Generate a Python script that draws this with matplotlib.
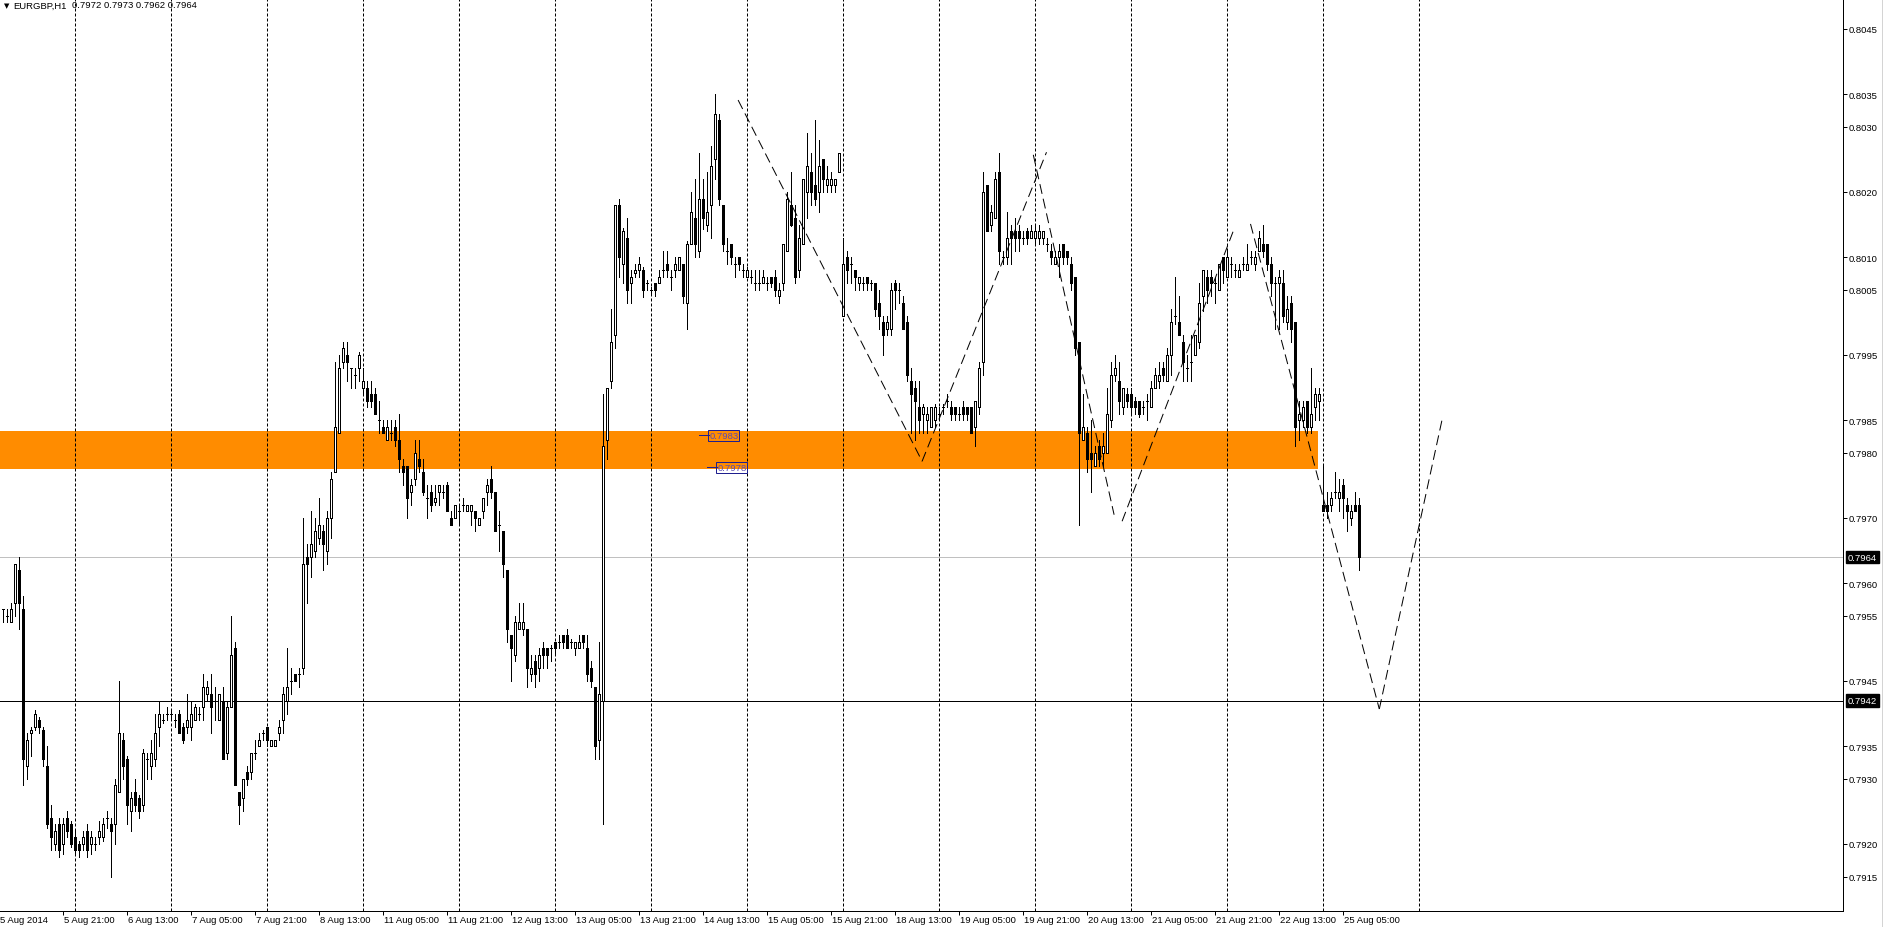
import numpy as np
import matplotlib.pyplot as plt
from matplotlib.patches import Rectangle
from matplotlib.lines import Line2D
from matplotlib.transforms import ScaledTranslation, blended_transform_factory

plt.rcParams['font.family'] = ['Liberation Sans', 'DejaVu Sans']

symbol = 'EURGBP,H1'
last_ohlc = '0.7972 0.7973 0.7962 0.7964'

# hourly bars, prices in pips (x 0.0001); bar 1 = 5 Aug 2014 06:00
opens = [
    7956, 7955, 7954, 7957, 7962, 7956, 7932, 7937, 7938, 7939,
    7937.5, 7932, 7924, 7920, 7923, 7920, 7924, 7923, 7921, 7920,
    7920, 7922, 7920, 7920, 7921, 7921, 7924, 7923, 7923, 7928,
    7936, 7933, 7925, 7928, 7927, 7926, 7933, 7932, 7933, 7938,
    7939, 7940, 7940, 7939, 7940, 7938, 7938, 7938, 7939, 7940,
    7941, 7943, 7943, 7942, 7939, 7942, 7934, 7941, 7950, 7928,
    7927, 7931, 7931, 7934, 7935, 7937, 7938, 7935, 7935, 7937,
    7939, 7942, 7945, 7946, 7946, 7947, 7964, 7964, 7965, 7967,
    7968, 7965, 7970, 7977, 7983, 7994, 7995, 7993, 7992, 7993,
    7990, 7990, 7989, 7989, 7985, 7984, 7982, 7983, 7984, 7982,
    7978, 7978, 7974, 7976, 7979, 7977, 7973, 7974, 7972.5, 7974,
    7974, 7975, 7970, 7970, 7971, 7972, 7971, 7971, 7971, 7969,
    7971, 7974, 7976, 7974, 7969, 7968, 7962, 7952, 7949, 7953,
    7953, 7953, 7946, 7948, 7947, 7950, 7950, 7950, 7951, 7951,
    7952, 7952, 7951, 7950, 7950, 7952, 7950, 7947, 7944, 7936,
    7942, 7982, 7991, 7998, 8018, 8009, 8013, 8006, 8007.5, 8008,
    8008, 8006, 8005, 8006, 8006, 8008, 8009, 8007, 8008, 8008,
    8009, 8003, 8012, 8016, 8011, 8019, 8015, 8018, 8025, 8031,
    8018, 8011, 8012, 8009, 8010, 8008, 8007, 8007, 8006, 8006,
    8006, 8006, 8007, 8007, 8004, 8006, 8011, 8018, 8016, 8008,
    8012, 8020, 8023, 8021, 8020, 8025, 8021, 8021, 8021, 8023,
    8001, 8010, 8009, 8008, 8006, 8006, 8007, 8006, 8006, 8003,
    8000, 7999, 7999, 8006, 8005, 8003, 8000, 7991, 7990, 7987,
    7986, 7985, 7984, 7985, 7986, 7987, 7988, 7987, 7987, 7986,
    7987, 7987, 7987, 7984, 7987, 7994, 8021, 8015, 8016, 8023,
    8010, 8010, 8014, 8014, 8014, 8013, 8014, 8013, 8013, 8013,
    8013, 8012, 8011, 8009, 8010, 8012, 8011, 8009, 8007, 7997,
    7982, 7983, 7980, 7978, 7981, 7980, 7980, 7985, 7992, 7991,
    7987, 7989, 7989, 7988, 7988, 7987, 7988, 7987, 7990, 7991,
    7993, 7991, 7995, 8001, 8000, 7997, 7993, 7994, 7995, 7997,
    8004, 8007, 8007, 8006, 8005, 8010, 8007, 8009, 8008, 8007,
    8009, 8008, 8010, 8009, 8011, 8012, 8012, 8009, 8006, 8006,
    8006, 8000, 8003, 8000, 7985, 7985, 7988, 7984, 7987, 7988,
    7972, 7972, 7972, 7974, 7973, 7975, 7972, 7970, 7972, 7972,
]
highs = [
    7956, 7956, 7957, 7963, 7964, 7958, 7937, 7938, 7940.5, 7939.5,
    7938, 7935, 7926, 7923, 7924, 7924, 7925, 7923.5, 7922, 7920.5,
    7922, 7923, 7922, 7921, 7923.5, 7924, 7925, 7924, 7930, 7945,
    7937, 7933.5, 7928, 7930, 7927.5, 7934.5, 7934, 7936, 7940, 7942,
    7940, 7941, 7940.5, 7940, 7940.5, 7938.5, 7943, 7942, 7941.5, 7941,
    7946, 7945, 7946, 7944, 7943, 7944, 7942, 7955, 7951, 7928,
    7930, 7932, 7934, 7936, 7937, 7937.5, 7938, 7936, 7936, 7939,
    7944, 7950, 7947, 7946, 7947, 7970, 7966, 7971, 7970, 7973,
    7969, 7971, 7977, 7994, 7995, 7997, 7997, 7993, 7993, 7995.5,
    7993, 7991, 7991, 7990, 7988, 7985, 7985, 7985, 7985, 7986,
    7979, 7978, 7976, 7982, 7982, 7979, 7975, 7975, 7975, 7975,
    7975, 7975.5, 7971, 7972, 7972, 7973, 7972, 7972, 7971, 7970,
    7973, 7976, 7978, 7974, 7971, 7968, 7962, 7952, 7955, 7957,
    7957, 7953, 7949, 7949, 7950, 7951, 7950, 7950.5, 7951, 7952,
    7952, 7953, 7951.5, 7951, 7952, 7952, 7952, 7948, 7944, 7951,
    7989, 7990, 8002, 8018, 8019, 8014.5, 8016, 8008, 8009, 8010,
    8008.5, 8006.5, 8005.5, 8006, 8008, 8011, 8011, 8008, 8010, 8010,
    8009, 8012.5, 8020, 8022, 8026, 8022, 8023, 8027, 8035, 8032,
    8018, 8013, 8012, 8010, 8010, 8009, 8008.5, 8008, 8008, 8008,
    8008, 8007, 8007, 8008, 8006, 8012, 8020, 8023, 8018, 8015,
    8022, 8029, 8026, 8031, 8028, 8025, 8024, 8023, 8022, 8026,
    8013, 8011, 8010, 8008, 8007, 8007, 8007, 8006.5, 8006, 8005,
    8001, 8001, 8006, 8006.5, 8006, 8004, 8001, 7993, 7991, 7991,
    7987.5, 7987, 7987, 7987.5, 7987, 7987.5, 7989, 7988, 7987, 7987,
    7988, 7987, 7987, 7988, 7994, 8023, 8021, 8018, 8023, 8026,
    8011, 8017, 8015, 8016, 8015, 8014, 8014.5, 8015, 8015, 8015,
    8014, 8013, 8012, 8011, 8012, 8012, 8011, 8010, 8007, 7997,
    7989, 7984, 7985, 7981, 7982, 7983, 7990, 7994, 7995, 7994,
    7990, 7990, 7990, 7988.5, 7988, 7988, 7989, 7991, 7993, 7994,
    7994, 7996, 8002, 8007, 8004, 7998, 7995, 7998, 7998, 8006,
    8008, 8008, 8008, 8007, 8009, 8010, 8011, 8010, 8009, 8009,
    8010, 8012, 8011, 8011, 8014, 8015, 8012, 8010, 8007, 8008,
    8008, 8004, 8004, 8000, 7988, 7988, 7988, 7993, 7990, 7990,
    7978, 7974, 7974, 7977, 7976, 7976, 7973, 7972, 7974, 7973,
]
lows = [
    7954, 7954, 7954, 7955, 7953, 7929, 7930, 7933.5, 7937.5, 7937,
    7932, 7922.5, 7919, 7919, 7918, 7918.5, 7921, 7919.5, 7918.5, 7918,
    7919, 7918, 7918.5, 7919, 7920, 7920.5, 7922.5, 7915, 7920, 7928,
    7930, 7923, 7922, 7925, 7924, 7925, 7930, 7930, 7932, 7935,
    7938.5, 7939, 7939, 7938, 7937, 7935.5, 7937, 7936, 7939, 7939,
    7939, 7942, 7937, 7939, 7939, 7933, 7933, 7941, 7929, 7923,
    7925, 7929, 7930, 7933, 7935, 7936, 7935, 7935, 7935, 7936,
    7937, 7940, 7943, 7945, 7944, 7946, 7957, 7961, 7964, 7966,
    7962, 7963, 7967, 7977, 7983, 7993, 7991, 7990, 7990, 7991,
    7989, 7987, 7987, 7986, 7983, 7983, 7982, 7982, 7981, 7977,
    7975, 7970, 7972, 7975, 7977, 7973.5, 7970, 7971, 7972, 7972,
    7973, 7971, 7969, 7970, 7969, 7971, 7971, 7969, 7968, 7969,
    7970, 7972, 7973, 7968, 7965, 7961, 7951, 7945, 7948, 7953,
    7952, 7944, 7945, 7944, 7945, 7947, 7947, 7948, 7949, 7950,
    7950, 7950, 7950, 7949, 7950, 7950, 7945, 7944, 7933, 7933,
    7923, 7979, 7990, 7996, 8007, 8006, 8003, 8003, 8007, 8007,
    8003.9, 8005, 8004.5, 8004, 8006, 8007, 8007, 8005, 8007, 8008,
    8003, 7999, 8012, 8010, 8010, 8014.3, 8014, 8013, 8022, 8018,
    8011, 8009, 8009, 8007, 8008, 8007, 8007, 8006, 8005, 8005,
    8006, 8005, 8005.5, 8004, 8003, 8005, 8011, 8014.8, 8006, 8007,
    8012, 8016, 8018, 8018, 8017, 8020, 8020, 8020, 8020, 8023,
    8001, 8006, 8006, 8005, 8005, 8005, 8005, 8005, 8001, 7999,
    7995, 7998, 7998, 8002, 8003, 7999, 7991, 7983, 7982, 7983,
    7983, 7983, 7984, 7984, 7985, 7986, 7987, 7985, 7985, 7985,
    7985, 7985, 7983, 7981, 7986, 7992, 8014, 8014, 8016, 8009,
    8009, 8009, 8009, 8011, 8011, 8012, 8012, 8013, 8012, 8012,
    8012, 8011, 8009, 8009, 8007, 8009, 8009, 8005, 7995, 7969,
    7982, 7977, 7974, 7978, 7978, 7978, 7980, 7984, 7991, 7986,
    7986, 7987, 7986, 7986, 7985.5, 7986, 7985, 7987, 7990, 7990,
    7991, 7991, 7992, 7999.8, 7998, 7991, 7991, 7991, 7995, 7996,
    8001.8, 8003, 8004, 8003, 8005, 8006, 8007, 8007, 8007, 8007,
    8008, 8008, 8009, 8008, 8011, 8010, 8008, 8004, 7999, 7999,
    8000, 7999, 7997, 7981, 7982, 7984, 7983, 7983, 7985, 7985,
    7971, 7970, 7971, 7973, 7971, 7970, 7968, 7969, 7971, 7962,
]
closes = [
    7956, 7955, 7956, 7963, 7957, 7933, 7936, 7937.5, 7940, 7938,
    7933, 7923, 7921, 7922, 7919, 7923, 7922, 7920, 7919, 7919,
    7921, 7919, 7921, 7920, 7922, 7923, 7924, 7922, 7929, 7937,
    7932, 7926, 7927, 7926, 7925, 7934, 7933, 7934, 7937, 7940,
    7939, 7940, 7940, 7939, 7937, 7936, 7939, 7940, 7941, 7940,
    7944, 7944, 7941, 7942, 7943, 7933, 7941, 7949, 7929, 7926,
    7930, 7930, 7934, 7934, 7936, 7937, 7936, 7936, 7936, 7938,
    7943, 7944, 7945, 7945, 7946, 7963, 7963, 7966, 7968, 7969,
    7966, 7970, 7976, 7984, 7993, 7996, 7994, 7993, 7992, 7995,
    7991, 7988, 7988, 7986, 7985, 7983, 7984, 7983, 7982, 7979,
    7977, 7973, 7975, 7980, 7978, 7974, 7973, 7972, 7973, 7975,
    7974, 7971, 7969, 7972, 7971, 7972, 7972, 7972, 7970, 7970,
    7973, 7975, 7974, 7968, 7969, 7963, 7953, 7950, 7954, 7954,
    7954, 7947, 7947, 7946, 7949, 7949, 7949, 7950, 7950, 7951,
    7951, 7950, 7951, 7951, 7951, 7951, 7946, 7945, 7935, 7943,
    7981, 7990, 7997, 8018, 8010, 8014, 8005, 8007, 8008, 8009,
    8005, 8006, 8005, 8005, 8007, 8008, 8008, 8007, 8009, 8010,
    8004, 8012, 8017, 8012, 8019, 8016, 8017, 8024, 8032, 8019,
    8012, 8011, 8010, 8009, 8009, 8008, 8008, 8007, 8006, 8006,
    8007, 8006, 8006, 8005, 8005, 8012, 8019, 8015, 8007, 8013,
    8022, 8024, 8020, 8019, 8024, 8022, 8022, 8022, 8022, 8026,
    8009, 8008, 8009, 8007, 8007, 8006, 8006, 8006, 8002, 8001,
    7998, 8000, 8005, 8005, 8005, 7999, 7992, 7989, 7988, 7985,
    7987, 7986, 7987, 7987, 7986, 7987, 7988, 7986, 7986, 7986,
    7986, 7986, 7983, 7988, 7993, 8020, 8014, 8017, 8022, 8011,
    8010, 8013, 8013, 8013, 8013, 8013, 8013, 8014, 8014, 8014,
    8014, 8012, 8010, 8010, 8011, 8010, 8010, 8006, 7996, 7983,
    7984, 7979, 7979, 7980, 7979, 7981, 7986, 7992, 7993, 7988,
    7990, 7988, 7987, 7987, 7986, 7987, 7988, 7990, 7992, 7992,
    7992, 7995, 8000, 8001, 7998, 7994, 7993, 7994, 7998, 8003,
    8008, 8005, 8006, 8006, 8009, 8008, 8010, 8009, 8008, 8008,
    8009, 8009, 8010, 8010, 8013, 8011, 8009, 8006, 8006, 8007,
    8001, 8002, 7999, 7984, 7986, 7987, 7984, 7986, 7989, 7989,
    7971, 7971, 7973, 7974, 7974, 7973, 7971, 7971, 7971, 7964,
]

# day separators (bar index of 00:00) and time labels (every 16 bars from bar 0)
separators = [19, 43, 67, 91, 115, 139, 163, 187, 211, 235, 259, 283, 307, 331, 355]
time_labels = ['5 Aug 2014', '5 Aug 21:00', '6 Aug 13:00', '7 Aug 05:00', '7 Aug 21:00',
               '8 Aug 13:00', '11 Aug 05:00', '11 Aug 21:00', '12 Aug 13:00', '13 Aug 05:00',
               '13 Aug 21:00', '14 Aug 13:00', '15 Aug 05:00', '15 Aug 21:00', '18 Aug 13:00',
               '19 Aug 05:00', '19 Aug 21:00', '20 Aug 13:00', '21 Aug 05:00', '21 Aug 21:00',
               '22 Aug 13:00', '25 Aug 05:00']
price_ticks = [0.8045, 0.8035, 0.8030, 0.8020, 0.8010, 0.8005, 0.7995, 0.7985, 0.7980,
               0.7970, 0.7960, 0.7955, 0.7945, 0.7935, 0.7930, 0.7920, 0.7915]

zone = (0.79775, 0.79834, 329.9)      # low, high, right end (bar)
bid_price = 0.7964
level_price = 0.7942
# hand-drawn projection segments: (bar, price) pairs
projection = [
    [(184.9, 0.80341), (230.9, 0.79787)],
    [(230.9, 0.79787), (262.0, 0.80261)],
    [(258.7, 0.80257), (278.9, 0.79705)],
    [(280.9, 0.79695), (309.0, 0.80145)],
    [(313.0, 0.80151), (345.2, 0.79407)],
    [(345.2, 0.79407), (360.9, 0.79851)],
]

for name, arr in [('highs', highs), ('lows', lows), ('closes', closes)]:
    if len(arr) != len(opens):
        raise ValueError(f'{name} has {len(arr)} values, opens has {len(opens)}')

o = np.array(opens) / 10000
h = np.array(highs) / 10000
l = np.array(lows) / 10000
c = np.array(closes) / 10000
idx = np.arange(1, len(o) + 1)

fig = plt.figure(figsize=(18.85, 9.28), dpi=100)
ax = fig.add_axes([0, 16 / 928, 1843 / 1885, 912 / 928])
ax.set_xlim(0.375, 461.125)
ax.set_ylim(0.790972, 0.804960)

px = 0.72  # one pixel in points
fs = 6.8

ax.add_patch(Rectangle((-5, zone[0]), zone[2] + 5, zone[1] - zone[0],
                       facecolor='#FF8C00', edgecolor='none', zorder=1))
for s in separators:
    ax.axvline(s, color='black', lw=px, linestyle=(0, (3, 2)), zorder=2)
ax.axhline(bid_price, color='#C0C0C0', lw=px, zorder=2)
ax.axhline(level_price, color='black', lw=px, zorder=2)

up = c >= o
ax.vlines(idx, l, h, color='black', lw=px, antialiased=False, zorder=3)
ax.bar(idx, np.abs(c - o), bottom=np.minimum(o, c), width=0.5,
       color=np.where(up, 'white', 'black'), edgecolor='black',
       linewidth=px, antialiased=False, zorder=4)

for seg in projection:
    xs, ys = zip(*seg)
    ax.plot(xs, ys, color='black', lw=px, linestyle=(0, (10, 5)), zorder=5)

# price labels of the zone
for x0, x1, val, txt in [(175.2, 177.7, 0.79827, '0.7983'), (177.2, 179.7, 0.79778, '0.7978')]:
    ax.plot([x0, x1], [val, val], color='#1F1F8F', lw=px, zorder=6)
    ax.text(x1, val, txt, ha='left', va='center', fontsize=fs, color='#5B4BB0',
            zorder=6, bbox=dict(boxstyle='square,pad=0.1', fc='none', ec='#1F1F8F', lw=px))

for s in ['top', 'left']:
    ax.spines[s].set_visible(False)
for s in ['right', 'bottom']:
    ax.spines[s].set_linewidth(px)

ax.yaxis.tick_right()
ax.set_yticks(price_ticks)
ax.set_yticklabels([f'{v:.4f}' for v in price_ticks])
ax.tick_params(axis='y', length=2.9, width=px, pad=1.5, labelsize=fs)

tick_pos = [16 * k for k in range(len(time_labels))]
ax.set_xticks(tick_pos[1:])
ax.set_xticklabels([])
ax.tick_params(axis='x', length=2.9, width=px)
tr = blended_transform_factory(ax.transData, ax.transAxes) + \
    ScaledTranslation(1.5 / 100, -4.5 / 100, fig.dpi_scale_trans)
for pos, lab in zip(tick_pos, time_labels):
    ax.text(pos, 0, lab, transform=tr, ha='left', va='top', fontsize=fs, clip_on=False)

for val in [bid_price, level_price]:
    ax.annotate(f'{val:.4f}', xy=(1, val), xycoords=('axes fraction', 'data'),
                xytext=(5, 0), textcoords='offset pixels', ha='left', va='center',
                color='white', fontsize=fs, annotation_clip=False,
                bbox=dict(boxstyle='square,pad=0.2', fc='black', ec='black'))

fig.text(4 / 1885, 1 - 6 / 928, '\u25BC', fontsize=5, family='DejaVu Sans', va='center')
fig.text(13 / 1885, 1 - 6 / 928, symbol, fontsize=fs, va='center')
fig.text(72 / 1885, 1 - 6 / 928, last_ohlc, fontsize=fs, va='center')
fig.add_artist(Line2D([1882 / 1885] * 2, [0, 1], transform=fig.transFigure,
                      color='#D4D4D4', lw=px))

fig.savefig('out.png', dpi=100)
